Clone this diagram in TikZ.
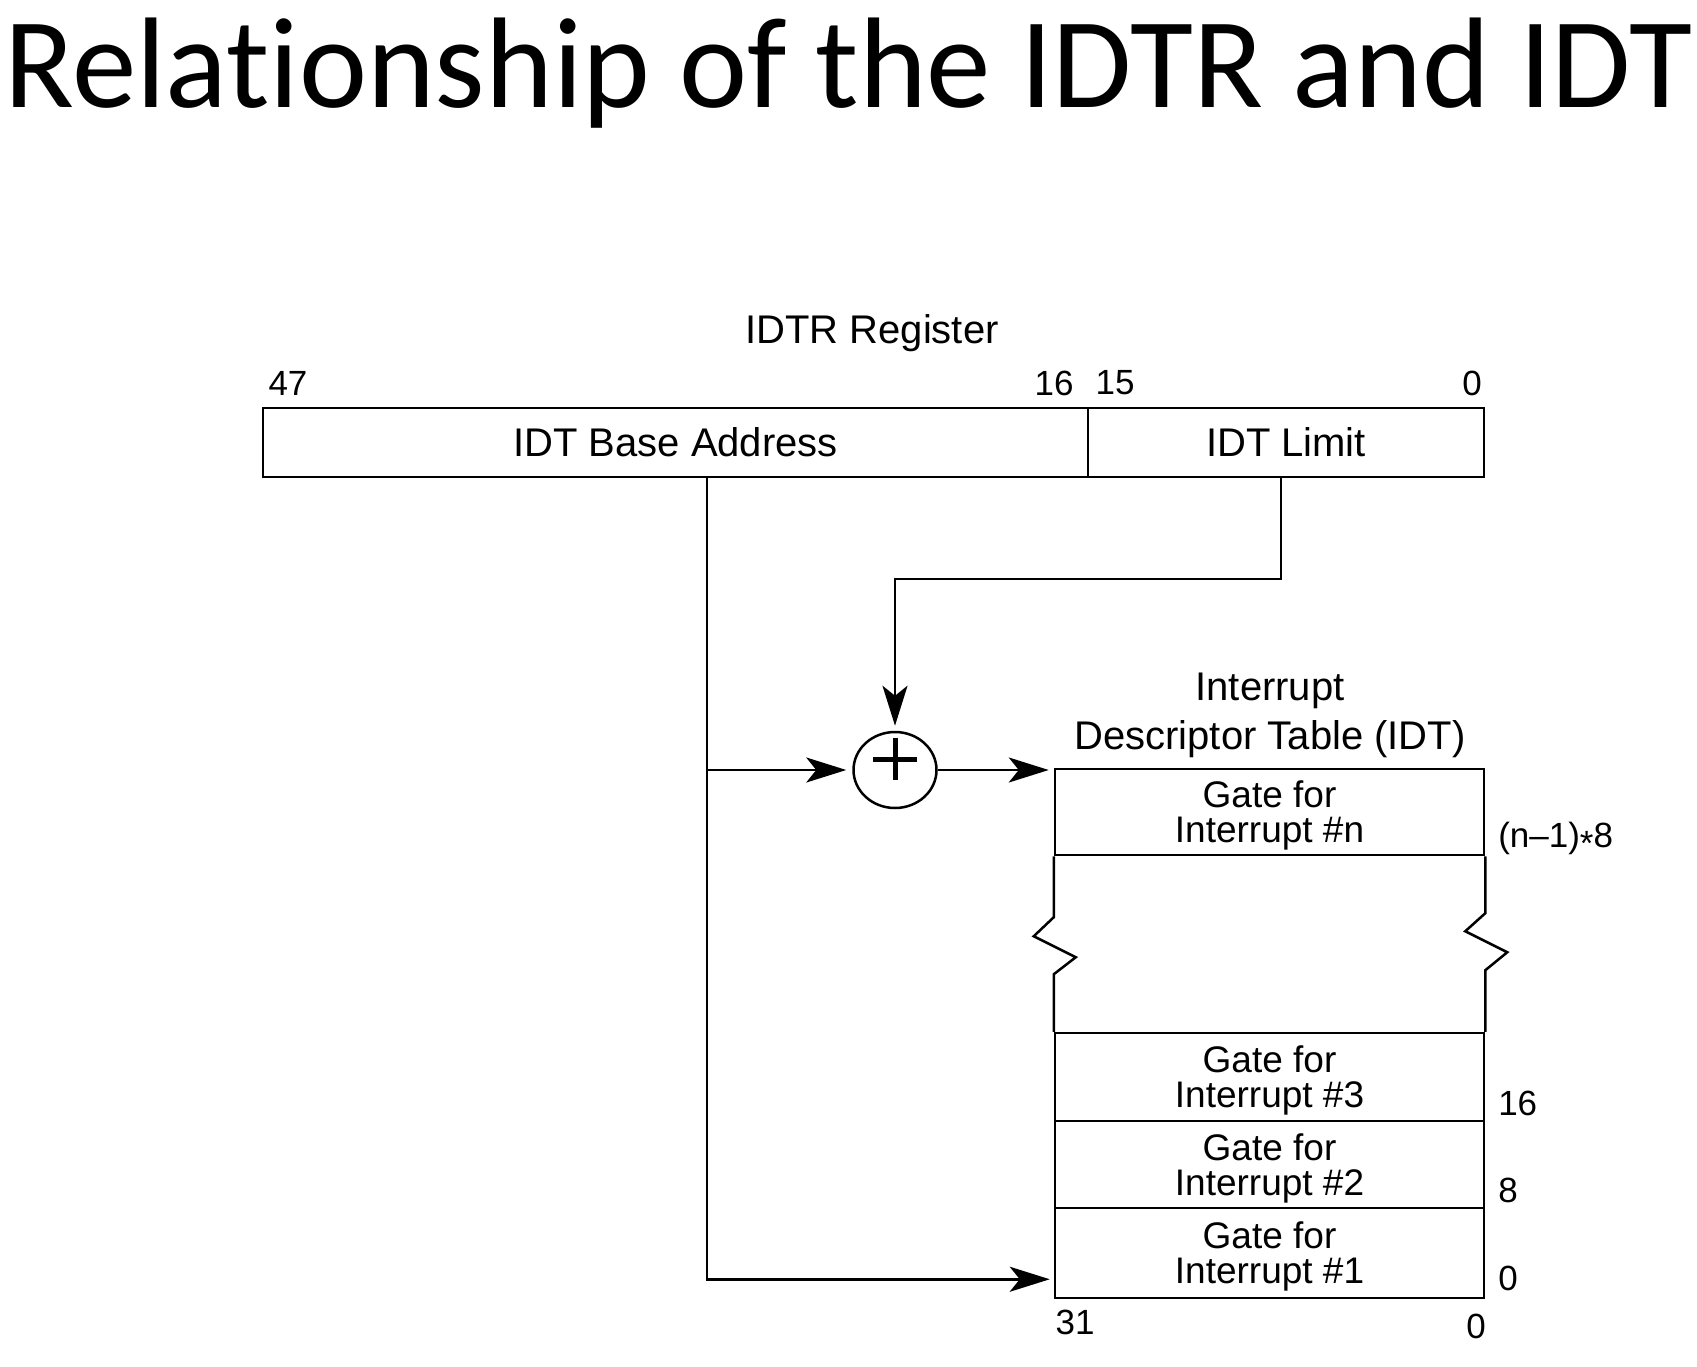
\documentclass[tikz,border=0pt]{standalone}
\usepackage{fontspec}
\setmainfont{Liberation Sans}
\newfontfamily\titlefont[Ligatures=NoCommon]{Carlito}
\usetikzlibrary{arrows.meta,shapes.geometric,calc}
\begin{document}
\begin{tikzpicture}[x=1pt,y=-1pt,
  line width=2.5pt,
  cell/.style={draw, rectangle, inner sep=0pt, minimum height=69pt, align=center, font=\fontsize{40}{44}\selectfont},
  rowbox/.style={draw, rectangle, inner sep=0pt, minimum width=429pt, align=center, text depth=0pt, font=\fontsize{37}{35}\selectfont},
  lbl/.style={inner sep=0pt, font=\fontsize{35}{40}\selectfont},
  arr/.style={-{Stealth[length=40pt,width=25pt,inset=10pt]}},
]
\useasboundingbox (0,0) rectangle (1697,1367);
\fill[white] (0,0) rectangle (1697,1367);

% title
\node[anchor=base west, inner sep=0pt, font=\titlefont\fontsize{129}{130}\selectfont] (title) at (3,108) {Relationship of the IDTR and IDT};

% register
\node[lbl, anchor=base, font=\fontsize{40}{44}\selectfont] (regtitle) at (872,343) {IDTR Register};
\node[cell, minimum width=825pt] (base) at (675.5,442.5) {IDT Base Address};
\node[cell, minimum width=396pt] (limit) at (1286,442.5) {IDT Limit};
\node[lbl] (b47) at (288,383) {47};
\node[lbl] (b16) at (1054,383) {16};
\node[lbl] (b15) at (1115,383) {15};
\node[lbl] (b0) at (1472,383) {0};

% IDT
\node[align=center, inner sep=0pt, font=\fontsize{40}{49}\selectfont] (idttitle) at (1270,715) {Interrupt\\Descriptor Table (IDT)};
\node[rowbox, minimum height=86pt] (rown) at (1269.5,812) {Gate for\\Interrupt \#n};
\node[rowbox, minimum height=88pt] (row3) at (1269.5,1077) {Gate for\\Interrupt \#3};
\node[rowbox, minimum height=87pt] (row2) at (1269.5,1164.5) {Gate for\\Interrupt \#2};
\node[rowbox, minimum height=90pt] (row1) at (1269.5,1253) {Gate for\\Interrupt \#1};

\draw (rown.south west) -- ++(0,61) -- ++(-20,19) -- ++(42,21) -- ++(-22,17) -- (row3.north west);
\draw (rown.south east) -- ++(0,57) -- ++(-20,18) -- ++(42,21) -- ++(-22,18) -- (row3.north east);

\node[lbl, anchor=base west] (lnn) at (1497,847) {(n--1)\raisebox{-8pt}{*}8};
\node[lbl, anchor=west] (l16) at (1497,1103) {16};
\node[lbl, anchor=west] (l8) at (1497,1190) {8};
\node[lbl, anchor=west] (l0) at (1497,1278) {0};
\node[lbl] (l31) at (1075,1322) {31};
\node[lbl] (lb0) at (1476,1326) {0};

% adder
\node[draw, ellipse, minimum width=83pt, minimum height=76pt, inner sep=0pt] (sum) at (895,770) {};
\draw[line width=5pt] ($(sum.center)+(-22,-11)$) -- ($(sum.center)+(22,-11)$);
\draw[line width=5pt] ($(sum.center)+(0,-32)$) -- ($(sum.center)+(0,10)$);

% connectors
\coordinate (btap) at (707,477);
\coordinate (bjoin) at (707,770);
\coordinate (row1in) at ($(row1.south west)+(0,-20)$);
\coordinate (ltap) at (1281,477);
\coordinate (lturn) at (1281,579);

\draw[arr, shorten >=4pt] (btap) |- (row1in);
\draw[arr, shorten >=6pt] (bjoin) -- (sum.west);
\draw[arr, shorten >=5pt] (sum.east) -- (sum.east -| rown.west);
\draw[arr, shorten >=5pt] (ltap) -- (lturn) -| (sum.north);
\end{tikzpicture}
\end{document}
